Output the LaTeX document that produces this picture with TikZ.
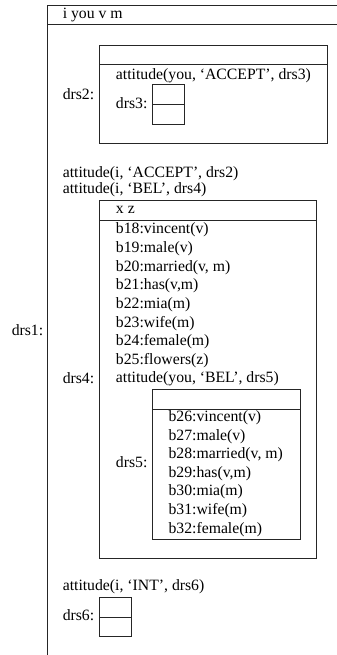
\documentclass[tikz,border=0pt]{standalone}
\usepackage{fontspec}
\setmainfont{Liberation Serif}
\usetikzlibrary{positioning}
\tikzset{
  drsline/.style={line width=0.6pt, draw=black!85},
  cond/.style={anchor=base west, inner sep=0pt, font=\fontsize{11.8}{14}\selectfont},
}

\begin{document}
\begin{tikzpicture}[x=0.75pt, y=-0.75pt]
  \useasboundingbox (0,0) rectangle (336,655);

  % --- drs1: outer box (runs off the page right and bottom) ---
  \draw[drsline] (47,5.3) rectangle (340,660);
  \draw[drsline] (47,24.5) -- (340,24.5);
  \node[cond] (u1) at (62.5,19) {i you v m};
  \node[cond] (l1) at (11.5,335) {drs1:};

  % --- drs2 with empty drs3 ---
  \draw[drsline] (99.7,45.3) rectangle (327.3,143.7);
  \draw[drsline] (99.7,64.3) -- (327.3,64.3);
  \node[cond] (l2) at (62.5,99.5) {drs2:};
  \node[cond] (c2) at (115.7,80) {attitude(you, ‘ACCEPT’, drs3)};
  \draw[drsline] (152.3,84.7) rectangle (184.3,124);
  \draw[drsline] (152.3,104.3) -- (184.3,104.3);
  \node[cond] (l3) at (115.7,108.3) {drs3:};

  % --- conditions of drs1 ---
  \node[cond] (c1a) at (62.5,177.3) {attitude(i, ‘ACCEPT’, drs2)};
  \node[cond] (c1b) at (62.5,193.5) {attitude(i, ‘BEL’, drs4)};

  % --- drs4 ---
  \draw[drsline] (99.7,200.7) rectangle (316,558.3);
  \draw[drsline] (99.7,220) -- (316,220);
  \node[cond] (u4) at (115.7,213.5) {x z};
  \node[cond] (l4) at (62.5,383.3) {drs4:};
  \foreach \txt [count=\k from 0] in {b18:vincent(v), b19:male(v),
      {b20:married(v, m)}, {b21:has(v,m)}, b22:mia(m), b23:wife(m),
      b24:female(m), b25:flowers(z), {attitude(you, ‘BEL’, drs5)}}
    \node[cond] (c4\k) at (115.7,234+18.6*\k) {\txt};

  % --- drs5 inside drs4 ---
  \draw[drsline] (152.3,389) rectangle (300,539);
  \draw[drsline] (152.3,409) -- (300,409);
  \node[cond] (l5) at (115.7,467.3) {drs5:};
  \foreach \txt [count=\k from 0] in {b26:vincent(v), b27:male(v),
      {b28:married(v, m)}, {b29:has(v,m)}, b30:mia(m), b31:wife(m),
      b32:female(m)}
    \node[cond] (c5\k) at (168.3,421.5+18.6*\k) {\txt};

  % --- drs6: empty ---
  \node[cond] (c1c) at (62.5,590.7) {attitude(i, ‘INT’, drs6)};
  \draw[drsline] (99.7,597.7) rectangle (131.3,636.7);
  \draw[drsline] (99.7,617.3) -- (131.3,617.3);
  \node[cond] (l6) at (62.5,620.7) {drs6:};
\end{tikzpicture}
\end{document}
